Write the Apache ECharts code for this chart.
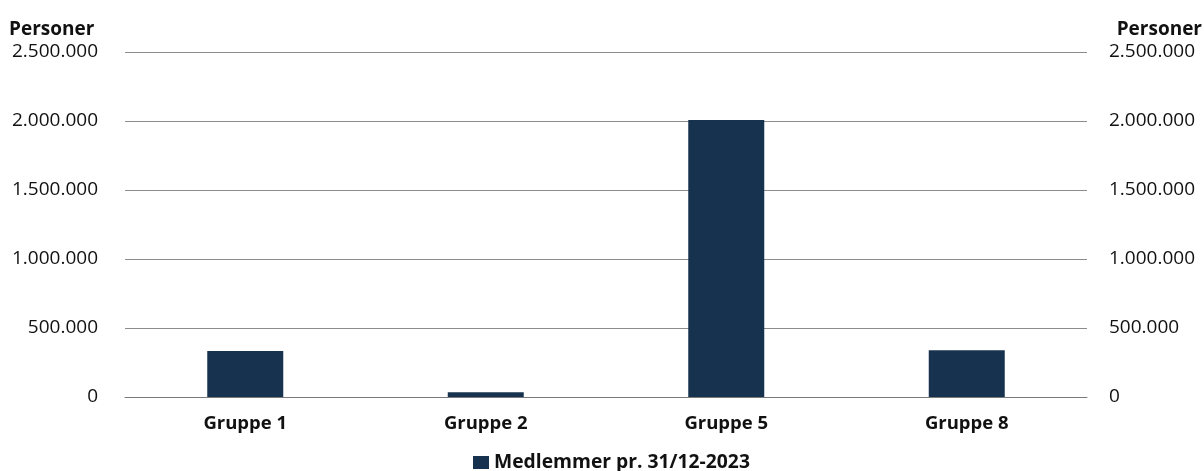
<!DOCTYPE html>
<html>
<head>
<meta charset="utf-8">
<script src="https://cdn.jsdelivr.net/npm/echarts@6/dist/echarts.min.js"></script>
<style>
  html, body { margin: 0; padding: 0; background: #fff; }
  #chart { width: 1204px; height: 471px; }
</style>
</head>
<body>
<div id="chart"></div>
<script>
// Member counts per group at year end
const categories = ['Gruppe 1', 'Gruppe 2', 'Gruppe 5', 'Gruppe 8'];
const members = [333000, 34000, 2007000, 338000];
const seriesName = 'Medlemmer pr. 31/12-2023';
const axisTitle = 'Personer';

const FONT = '"Open Sans", "Noto Sans", sans-serif';
const TEXT = '#111111';
const BAR = '#17324f';

// Danish thousands separator: 2500000 -> 2.500.000
function fmt(v) {
  return String(Math.round(v)).replace(/\B(?=(\d{3})+(?!\d))/g, '.');
}

const chart = echarts.init(document.getElementById('chart'), null, { renderer: 'canvas' });

const valueAxis = (pos) => ({
  type: 'value',
  position: pos,
  min: 0,
  max: 2500000,
  interval: 500000,
  axisLine: { show: false },
  axisTick: { show: false },
  splitLine: { show: pos === 'left', lineStyle: { color: '#8c8c8c', width: 1 } },
  axisLabel: {
    formatter: fmt,
    color: TEXT,
    fontFamily: FONT,
    fontSize: 19,
    margin: pos === 'left' ? 27 : 22
  }
});

chart.setOption({
  animation: false,
  grid: { left: 125, right: 117, top: 52, bottom: 74, containLabel: false },
  graphic: [
    { type: 'text', left: 9, top: 20,
      style: { text: axisTitle, fill: TEXT, font: 'bold 19px ' + FONT } },
    { type: 'text', right: 2, top: 20,
      style: { text: axisTitle, fill: TEXT, font: 'bold 19px ' + FONT } }
  ],
  legend: {
    top: 448,
    left: 468,
    itemWidth: 16,
    itemHeight: 13,
    itemGap: 10,
    icon: 'rect',
    textStyle: { color: TEXT, fontFamily: FONT, fontSize: 19.3, fontWeight: 'bold' },
    data: [seriesName]
  },
  xAxis: {
    type: 'category',
    data: categories,
    axisLine: { show: true, lineStyle: { color: '#7a7a7a', width: 1 } },
    axisTick: { show: false },
    axisLabel: { color: TEXT, fontFamily: FONT, fontSize: 18.5, fontWeight: 'bold', margin: 17 }
  },
  yAxis: [valueAxis('left'), valueAxis('right')],
  series: [{
    name: seriesName,
    type: 'bar',
    data: members,
    barWidth: 76,
    itemStyle: { color: BAR }
  }]
});
</script>
</body>
</html>
